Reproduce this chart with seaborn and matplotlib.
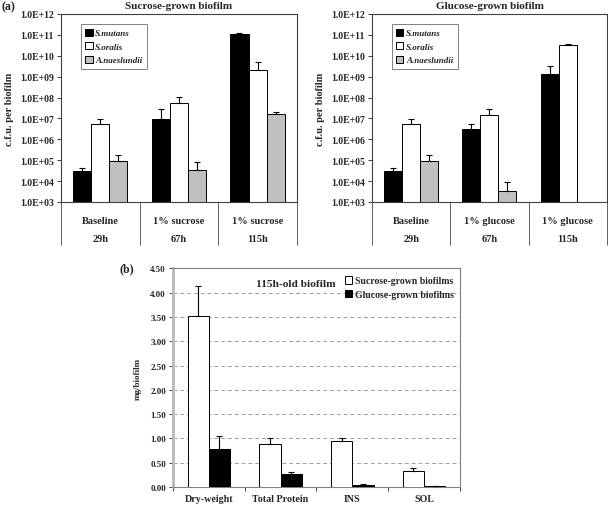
import numpy as np
import pandas as pd
import matplotlib
matplotlib.use("Agg")
import matplotlib.pyplot as plt
import seaborn as sns
from matplotlib.ticker import FixedLocator, FuncFormatter

# ---- data ----
species = ["S.mutans", "S.oralis", "A.naeslundii"]
sucrose_groups = ["Baseline\n\n29h", "1% sucrose\n\n67h", "1% sucrose\n\n115h"]
glucose_groups = ["Baseline\n\n29h", "1% glucose\n\n67h", "1% glucose\n\n115h"]

# c.f.u. per biofilm, rows = species, cols = time point
sucrose_cfu = [[2.9e4, 8.9e6, 1.1e11],
               [5.4e6, 5.6e7, 2.2e9],
               [9.1e4, 3.4e4, 1.6e7]]
sucrose_err = [[1.5e4, 1.8e7, 1.0e10],
               [3.5e6, 5.4e7, 2.8e9],
               [7.9e4, 4.7e4, 4.0e6]]
glucose_cfu = [[2.9e4, 3.2e6, 1.35e9],
               [5.4e6, 1.5e7, 3.2e10],
               [9.1e4, 3.3e3, np.nan]]
glucose_err = [[1.5e4, 2.2e6, 1.75e9],
               [3.5e6, 1.2e7, 3.0e9],
               [7.9e4, 5.4e3, np.nan]]

measures = ["Dry-weight", "Total Protein", "INS", "SOL"]
media = ["Sucrose-grown biofilms", "Glucose-grown biofilms"]
mg_values = [[3.52, 0.88, 0.94, 0.34],
             [0.79, 0.27, 0.05, 0.03]]
mg_err = [[0.61, 0.13, 0.07, 0.05],
          [0.26, 0.04, 0.02, 0.0]]

sns.set_style("ticks")
plt.rcParams["font.family"] = ["Liberation Serif", "DejaVu Serif"]
plt.rcParams["font.weight"] = "bold"
plt.rcParams["axes.titleweight"] = "bold"
plt.rcParams["axes.labelweight"] = "bold"

frame = "#404040"
cfu_colors = ["black", "white", "#c0c0c0"]


def long_frame(groups, vals):
    rows = []
    for j, sp in enumerate(species):
        for i, g in enumerate(groups):
            rows.append({"group": g, "species": sp, "cfu": vals[j][i]})
    return pd.DataFrame(rows)


def bold_ticks(ax):
    for t in ax.get_xticklabels() + ax.get_yticklabels():
        t.set_fontweight("bold")


def cfu_panel(ax, groups, vals, errs, title):
    df = long_frame(groups, vals)
    width = 0.69
    ax.set_yscale("log")
    sns.barplot(data=df, x="group", y="cfu", hue="species", order=groups,
                hue_order=species, palette=cfu_colors, width=width,
                edgecolor="black", linewidth=0.7, errorbar=None, ax=ax)
    ax.set_ylim(1e3, 1e12)
    # log axis: start the bars at the axis floor so they are drawn
    floor = ax.get_ylim()[0]
    for cont in ax.containers:
        for p in cont:
            top = p.get_y() + p.get_height()
            p.set_y(floor)
            p.set_height(top - floor)
    n = len(species)
    bw = width / n
    for j in range(n):
        x = np.arange(len(groups)) + (j - (n - 1) / 2) * bw
        v = np.array(vals[j], dtype=float)
        e = np.array(errs[j], dtype=float)
        ok = ~np.isnan(v)
        ax.errorbar(x[ok], v[ok], yerr=[np.zeros(ok.sum()), e[ok]], fmt="none",
                    ecolor="black", elinewidth=0.8, capsize=2.5, capthick=0.8)
    ax.set_xlim(-0.5, len(groups) - 0.5)
    decades = [10.0 ** k for k in range(3, 13)]
    ax.yaxis.set_major_locator(FixedLocator(decades))
    ax.yaxis.set_minor_locator(FixedLocator([]))
    ax.yaxis.set_major_formatter(FuncFormatter(lambda v, p: f"{v:.1E}"))
    ax.tick_params(axis="y", labelsize=7, length=3, width=0.7, color=frame, pad=2)
    # category table under the axis
    ax.set_xticks(range(len(groups)))
    ax.set_xticklabels(groups, fontsize=7.5, linespacing=1.0)
    ax.tick_params(axis="x", which="major", length=0, pad=10)
    ax.xaxis.set_minor_locator(FixedLocator(np.arange(-0.5, len(groups), 1.0)))
    ax.tick_params(axis="x", which="minor", length=31, width=0.7, color="#606060")
    bold_ticks(ax)
    ax.set_xlabel("")
    ax.set_ylabel("c.f.u. per biofilm", fontsize=7.5, labelpad=4)
    ax.set_title(title, fontsize=8, pad=4)
    for s in ax.spines.values():
        s.set_visible(True)
        s.set_color(frame)
        s.set_linewidth(0.8)
    leg = ax.legend(loc="upper left", bbox_to_anchor=(0.065, 0.97), fontsize=6.5,
                    frameon=True, fancybox=False, handlelength=0.8, handleheight=0.8,
                    handletextpad=0.3, borderpad=0.5, labelspacing=0.55)
    leg.get_frame().set_edgecolor("#606060")
    leg.get_frame().set_linewidth(0.7)
    for t in leg.get_texts():
        t.set_fontstyle("italic")
        t.set_fontweight("bold")


fig = plt.figure(figsize=(6.08, 5.10), dpi=100)
ax1 = fig.add_axes([0.1003, 0.602, 0.388, 0.3686])
ax2 = fig.add_axes([0.6118, 0.602, 0.3865, 0.3686])
ax3 = fig.add_axes([0.2845, 0.043, 0.472, 0.429])

cfu_panel(ax1, sucrose_groups, sucrose_cfu, sucrose_err, "Sucrose-grown biofilm")
cfu_panel(ax2, glucose_groups, glucose_cfu, glucose_err, "Glucose-grown biofilm")

# ---- panel (b) ----
rows = []
for j, m in enumerate(media):
    for i, c in enumerate(measures):
        rows.append({"measure": c, "medium": m, "mg": mg_values[j][i]})
mg_df = pd.DataFrame(rows)
bwidth = 0.59
sns.barplot(data=mg_df, x="measure", y="mg", hue="medium", order=measures,
            hue_order=media, palette=["white", "black"], width=bwidth,
            edgecolor="black", linewidth=0.7, errorbar=None, ax=ax3, zorder=3)
for j in range(len(media)):
    x = np.arange(len(measures)) + (j - 0.5) * bwidth / 2
    e = np.array(mg_err[j])
    ax3.errorbar(x, mg_values[j], yerr=[np.zeros(len(e)), e], fmt="none",
                 ecolor="black", elinewidth=0.8, capsize=2.5, capthick=0.8, zorder=4)
ax3.set_ylim(0, 4.5)
ax3.set_xlim(-0.5, len(measures) - 0.5)
ax3.set_yticks(np.arange(0, 4.51, 0.5))
ax3.yaxis.set_major_formatter(FuncFormatter(lambda v, p: f"{v:.2f}"))
ax3.tick_params(axis="y", labelsize=6.5, length=3, width=0.7, color=frame, pad=2)
ax3.set_xticks(range(len(measures)))
ax3.set_xticklabels(measures, fontsize=7.2)
ax3.tick_params(axis="x", which="major", length=0, pad=5)
ax3.xaxis.set_minor_locator(FixedLocator(np.arange(-0.5, len(measures), 1.0)))
ax3.tick_params(axis="x", which="minor", length=3, width=0.7, color=frame)
bold_ticks(ax3)
for yv in np.arange(0.5, 4.01, 0.5):
    ax3.axhline(yv, color="#a0a0a0", lw=0.7, ls=(0, (4, 3)), zorder=1)
ax3.set_xlabel("")
ax3.set_ylabel("mg/biofilm", fontsize=6.5, labelpad=6)
for s in ax3.spines.values():
    s.set_visible(True)
    s.set_color("#808080")
    s.set_linewidth(0.8)
ax3.spines["left"].set_color("#b8b8b8")
ax3.spines["left"].set_linewidth(2)
leg3 = ax3.legend(loc="upper right", bbox_to_anchor=(1.0, 0.99), fontsize=7,
                  frameon=False, handlelength=0.8, handleheight=0.8,
                  handletextpad=0.3, labelspacing=0.45, borderaxespad=0.2)
ax3.text(0.29, 0.93, "115h-old biofilm", transform=ax3.transAxes, fontsize=8.2,
         fontweight="bold", va="center", ha="left")

fig.text(0.002, 0.985, "(a)", fontsize=8.5, fontweight="bold", va="center")
fig.text(0.197, 0.472, "(b)", fontsize=8.5, fontweight="bold", va="center")

fig.savefig("out.png", dpi=100)
